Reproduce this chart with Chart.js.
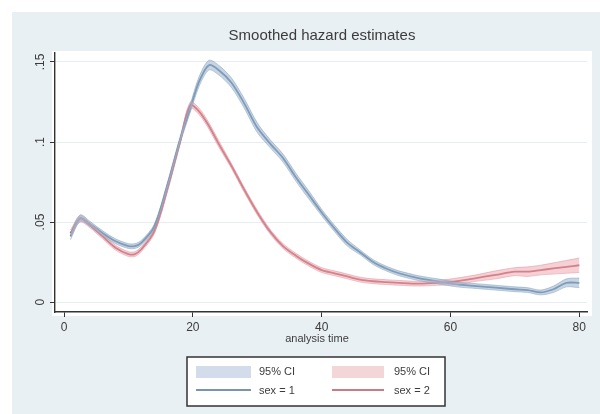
<!DOCTYPE html>
<html>
<head>
<meta charset="utf-8">
<script src="https://cdn.jsdelivr.net/npm/chart.js@4"></script>
<style>
  html, body { margin: 0; padding: 0; background: #fff; }
  #wrap { width: 600px; height: 414px; }
</style>
</head>
<body>
<div id="wrap"><canvas id="chart" width="600" height="414"></canvas></div>
<script>
// analysis time points
const times = [1, 2.5, 4, 6, 8, 10, 11, 12, 14, 16, 18, 19.6, 21, 22.5, 24, 26, 28, 30, 32, 34, 36, 38, 40, 42, 44, 46, 48, 50, 52, 55, 58, 61, 64, 67, 70, 72, 74, 76, 78, 80]

// sex = 1 smoothed hazard and CI half width
const sex1 = [0.041, 0.0525, 0.049, 0.043, 0.038, 0.035, 0.035, 0.037, 0.047, 0.072, 0.101, 0.121, 0.138, 0.148, 0.145, 0.137, 0.124, 0.109, 0.099, 0.090, 0.078, 0.067, 0.056, 0.046, 0.037, 0.031, 0.025, 0.021, 0.018, 0.015, 0.013, 0.011, 0.010, 0.009, 0.008, 0.0075, 0.006, 0.008, 0.012, 0.012]
const ci1 = [0.002, 0.002, 0.0015, 0.0015, 0.0015, 0.0015, 0.0015, 0.0015, 0.0015, 0.002, 0.002, 0.0025, 0.003, 0.003, 0.003, 0.003, 0.003, 0.003, 0.0025, 0.0025, 0.0025, 0.0025, 0.002, 0.002, 0.002, 0.0015, 0.0015, 0.0015, 0.0015, 0.0015, 0.0015, 0.0015, 0.0015, 0.0015, 0.0015, 0.0015, 0.0015, 0.002, 0.0025, 0.003]

// sex = 2 smoothed hazard and CI half width
const sex2 = [0.043, 0.052, 0.048, 0.041, 0.034, 0.030, 0.030, 0.033, 0.044, 0.070, 0.100, 0.123, 0.119, 0.110, 0.099, 0.085, 0.070, 0.056, 0.044, 0.035, 0.029, 0.024, 0.020, 0.018, 0.016, 0.014, 0.013, 0.0125, 0.012, 0.0115, 0.012, 0.013, 0.015, 0.017, 0.019, 0.019, 0.020, 0.021, 0.022, 0.023]
const ci2 = [0.002, 0.002, 0.0015, 0.0015, 0.0015, 0.0015, 0.0015, 0.0015, 0.0015, 0.002, 0.002, 0.002, 0.002, 0.002, 0.002, 0.0015, 0.0015, 0.0015, 0.0015, 0.0015, 0.0015, 0.0015, 0.0015, 0.0015, 0.0015, 0.0015, 0.0015, 0.0015, 0.0015, 0.0015, 0.0015, 0.002, 0.002, 0.0025, 0.0025, 0.003, 0.003, 0.0035, 0.004, 0.0045]

const xTicks = [0, 20, 40, 60, 80]
const xTickLabels = ["0", "20", "40", "60", "80"]
const yTicks = [0, 0.05, 0.1, 0.15]
const yTickLabels = ["0", ".05", ".1", ".15"]
const legendLabels = ["95% CI", "95% CI", "sex = 1", "sex = 2"]
const titleText = "Smoothed hazard estimates"
const xTitle = "analysis time"

const blue = "#4d7195"
const red = "#b4525c"
const blueBand = "rgba(160,184,208,0.6)"
const redBand = "rgba(236,170,178,0.55)"
const font = "'Liberation Sans', Arial, sans-serif"

const pts = (ys) => ys.map((y, i) => ({ x: times[i], y: y }))
const band = (ys, hw, sign) => ys.map((y, i) => ({ x: times[i], y: y + sign * hw[i] }))

// draws the Stata-like frame, title, tick labels and legend
const stataDecor = {
  id: "stataDecor",
  beforeDraw(chart) {
    const ctx = chart.ctx
    ctx.save()
    ctx.fillStyle = "#e9f0f3"
    ctx.fillRect(12, 12, 588, 402)
    ctx.fillStyle = "#ffffff"
    ctx.fillRect(52, 51, 540, 265)
    ctx.restore()
  },
  afterDraw(chart) {
    const ctx = chart.ctx
    const x = chart.scales.x
    const y = chart.scales.y
    ctx.save()
    ctx.fillStyle = "#3c3c3c"
    ctx.font = "15px " + font
    ctx.textAlign = "center"
    ctx.textBaseline = "middle"
    ctx.fillText(titleText, 322, 36)

    // rotated y tick labels
    ctx.font = "12px " + font
    yTicks.forEach((v, i) => {
      ctx.save()
      ctx.translate(41, y.getPixelForValue(v))
      ctx.rotate(-Math.PI / 2)
      ctx.fillText(yTickLabels[i], 0, 0)
      ctx.restore()
    })

    // x tick labels
    xTicks.forEach((v, i) => {
      ctx.fillText(xTickLabels[i], x.getPixelForValue(v), 328)
    })

    ctx.font = "11px " + font
    ctx.fillText(xTitle, 317, 339)

    // legend box
    ctx.fillStyle = "#ffffff"
    ctx.fillRect(187, 357, 258, 49)
    ctx.strokeStyle = "#333"
    ctx.lineWidth = 1.5
    ctx.strokeRect(187, 357, 258, 49)

    ctx.fillStyle = "#d3dceb"
    ctx.fillRect(196, 366, 55, 12)
    ctx.fillStyle = "#f4d6d9"
    ctx.fillRect(332, 366, 52, 12)

    ctx.lineWidth = 1.6
    ctx.strokeStyle = blue
    ctx.beginPath(); ctx.moveTo(196, 390); ctx.lineTo(251, 390); ctx.stroke()
    ctx.strokeStyle = red
    ctx.beginPath(); ctx.moveTo(332, 390); ctx.lineTo(384, 390); ctx.stroke()

    ctx.fillStyle = "#3c3c3c"
    ctx.font = "11px " + font
    ctx.textAlign = "left"
    ctx.fillText(legendLabels[0], 259, 372)
    ctx.fillText(legendLabels[1], 394, 372)
    ctx.fillText(legendLabels[2], 259, 391)
    ctx.fillText(legendLabels[3], 394, 391)
    ctx.restore()
  },
}

const zeroSize = (scale) => {
  if (scale.isHorizontal()) scale.height = 0
  else scale.width = 0
}

new Chart(document.getElementById("chart"), {
  type: "line",
  data: {
    datasets: [
      { data: band(sex1, ci1, 1), borderColor: "rgba(120,150,180,0.6)", borderWidth: 0.8, backgroundColor: blueBand, fill: "+1", pointRadius: 0, tension: 0.3 },
      { data: band(sex1, ci1, -1), borderColor: "rgba(120,150,180,0.6)", borderWidth: 0.8, pointRadius: 0, fill: false, tension: 0.3 },
      { data: band(sex2, ci2, 1), borderColor: "rgba(220,140,150,0.6)", borderWidth: 0.8, backgroundColor: redBand, fill: "+1", pointRadius: 0, tension: 0.3 },
      { data: band(sex2, ci2, -1), borderColor: "rgba(220,140,150,0.6)", borderWidth: 0.8, pointRadius: 0, fill: false, tension: 0.3 },
      { data: pts(sex1), borderColor: blue, borderWidth: 1.8, pointRadius: 0, fill: false, tension: 0.3 },
      { data: pts(sex2), borderColor: red, borderWidth: 1.8, pointRadius: 0, fill: false, tension: 0.3 },
    ],
  },
  options: {
    responsive: false,
    animation: false,
    devicePixelRatio: 1,
    layout: { padding: { left: 55, right: 13, top: 53, bottom: 102 } },
    plugins: { legend: { display: false }, tooltip: { enabled: false } },
    scales: {
      x: {
        type: "linear",
        min: -1.4,
        max: 81.2,
        afterFit: zeroSize,
        afterBuildTicks: (s) => { s.ticks = xTicks.map((v) => ({ value: v })) },
        grid: { drawOnChartArea: false, tickLength: 5, tickColor: "#333" },
        border: { color: "#333", width: 1.4 },
        ticks: { display: false },
      },
      y: {
        min: -0.0062,
        max: 0.1556,
        afterFit: zeroSize,
        afterBuildTicks: (s) => { s.ticks = yTicks.map((v) => ({ value: v })) },
        grid: { color: "#e6eef1", lineWidth: 1, tickLength: 5, tickColor: "#333" },
        border: { color: "#333", width: 1.4 },
        ticks: { display: false },
      },
    },
  },
  plugins: [stataDecor],
})
</script>
</body>
</html>
